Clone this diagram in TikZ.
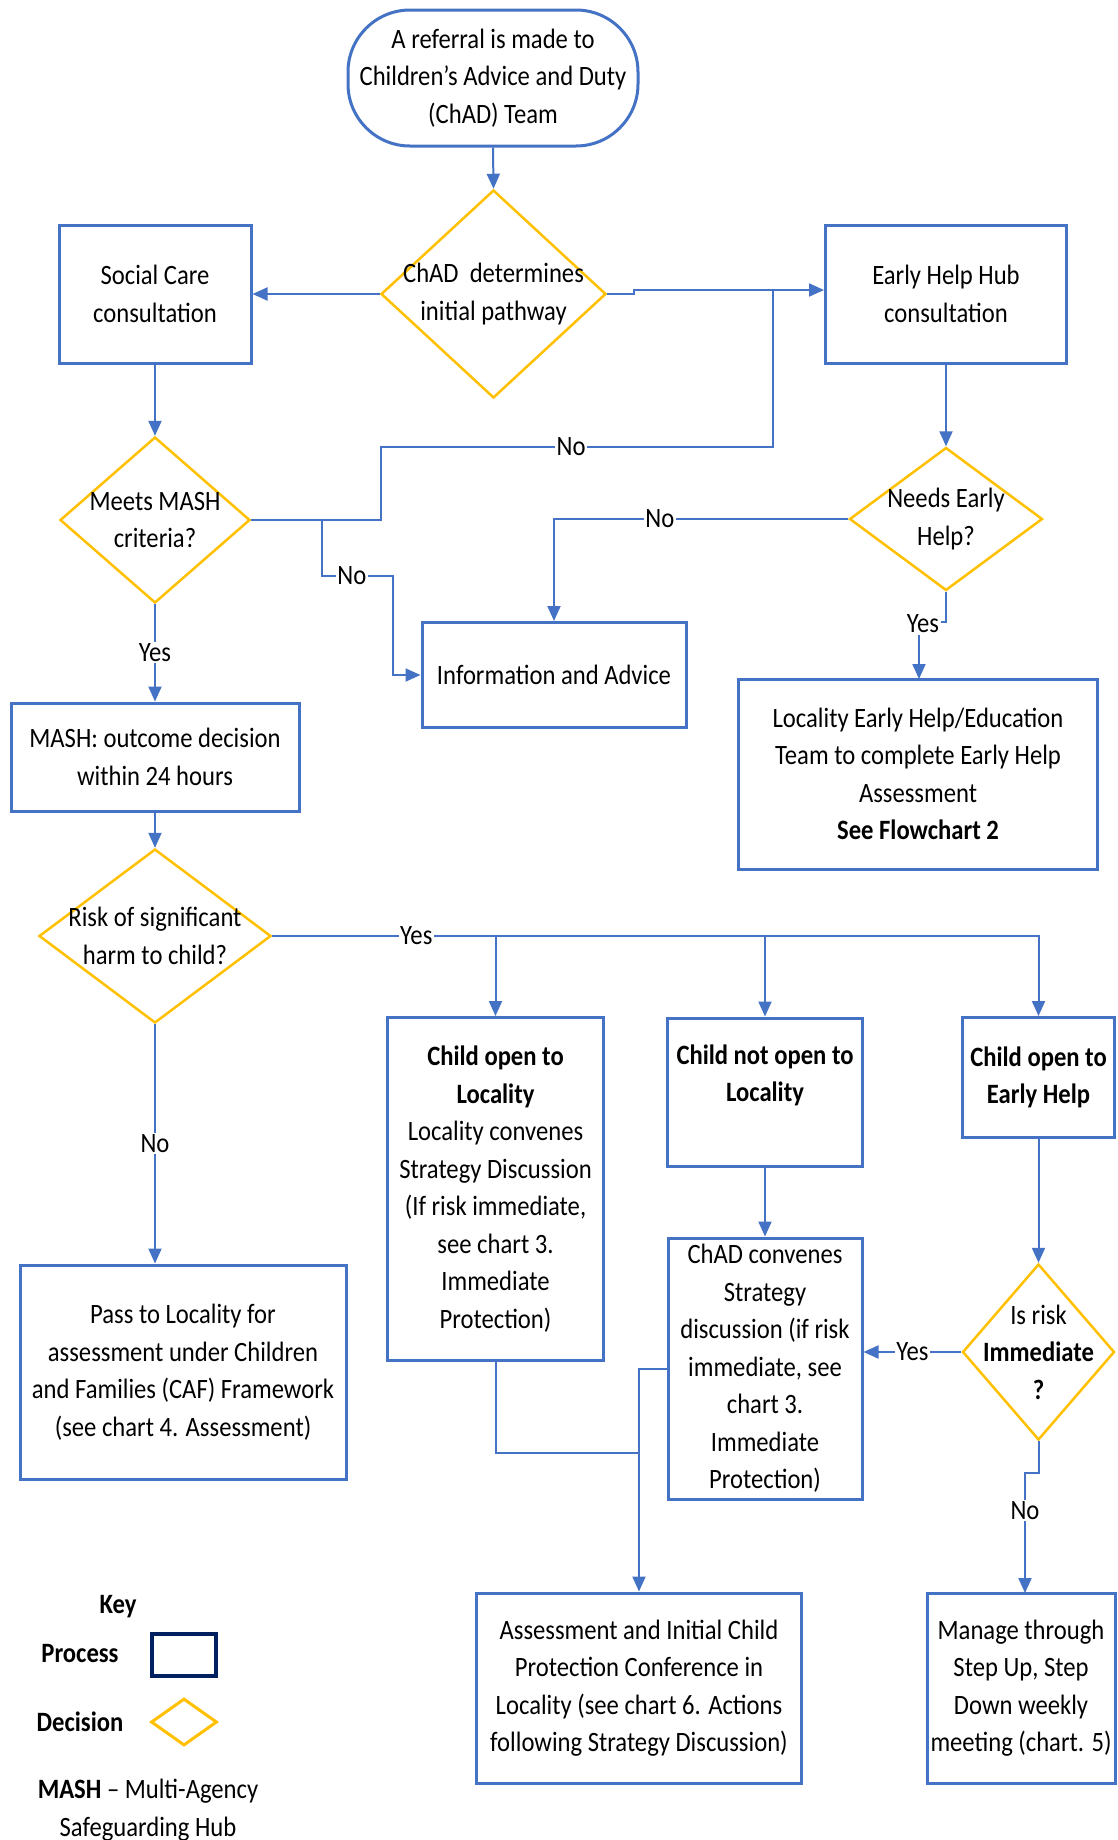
\documentclass[tikz,border=0pt]{standalone}
\usepackage{fontspec}
\setmainfont[FakeStretch=0.88]{Carlito}
\usetikzlibrary{shapes.geometric,arrows.meta}
\definecolor{lblue}{HTML}{4472C4}
\definecolor{gold}{HTML}{FFC000}
\definecolor{navy}{HTML}{002060}
\begin{document}
\begin{tikzpicture}[x=1pt,y=-1pt,
  every node/.style={font=\fontsize{28}{37.5}\selectfont, text=black},
  proc/.style={draw=lblue, line width=3pt, rectangle, inner sep=0pt, align=center},
  dec/.style={draw=gold, line width=2.5pt, diamond, inner sep=0pt},
  conn/.style={draw=lblue, line width=2pt},
  arr/.style={conn, -{Triangle[length=15pt,width=13pt]}},
  lbl/.style={fill=white, inner sep=1.5pt}
]
\useasboundingbox (0,0) rectangle (1117,1840);
\fill[white] (0,0) rectangle (1117,1840);

% nodes
\node[proc, rounded corners=62pt, minimum width=290pt, minimum height=136pt] (start) at (493,78)
  {A referral is made to\\Children’s Advice and Duty\\(ChAD) Team};
\node[dec, minimum width=225pt, minimum height=208pt,
  label={[align=center]center:{ChAD\ \ determines\\initial pathway}}] (d1) at (493.5,294) {};
\node[proc, minimum width=192pt, minimum height=138pt] (sc) at (155,294) {Social Care\\consultation};
\node[proc, minimum width=241pt, minimum height=138pt] (eh) at (946,294) {Early Help Hub\\consultation};
\node[dec, minimum width=190pt, minimum height=166pt,
  label={[align=center]center:{Meets MASH\\criteria?}}] (md) at (155,520) {};
\node[dec, minimum width=193pt, minimum height=143pt,
  label={[align=center]center:{Needs Early\\Help?}}] (neh) at (946,519) {};
\node[proc, minimum width=264pt, minimum height=105pt] (info) at (554,675) {Information and Advice};
\node[proc, minimum width=359pt, minimum height=190pt] (leh) at (918,774)
  {Locality Early Help/Education\\Team to complete Early Help\\Assessment\\\textbf{See Flowchart 2}};
\node[proc, minimum width=288pt, minimum height=108pt] (mash) at (155,757) {MASH: outcome decision\\within 24 hours};
\node[dec, minimum width=232pt, minimum height=174pt,
  label={[align=center]center:{Risk of significant\\harm to child?}}] (risk) at (155,936) {};
\node[proc, minimum width=216pt, minimum height=343pt] (A) at (495.5,1189)
  {\textbf{Child open to}\\\textbf{Locality}\\Locality convenes\\Strategy Discussion\\(If risk immediate,\\see chart 3.\\Immediate\\Protection)};
\node[proc, minimum width=195pt, minimum height=148pt] (B) at (765,1092)
  {\textbf{Child not open to}\\\textbf{Locality}\\\mbox{}};
\node[proc, minimum width=152pt, minimum height=120pt] (C) at (1038.5,1077.5)
  {\textbf{Child open to}\\\textbf{Early Help}};
\node[proc, minimum width=194pt, minimum height=261pt] (D) at (765,1368.5)
  {ChAD convenes\\Strategy\\discussion (if risk\\immediate, see\\chart 3.\\Immediate\\Protection)};
\node[dec, minimum width=152pt, minimum height=176pt,
  label={[align=center]center:{Is risk\\\textbf{Immediate}\\\textbf{?}}}] (E) at (1038.5,1352) {};
\node[proc, minimum width=188pt, minimum height=190pt] (F) at (1021,1688)
  {Manage through\\Step Up, Step\\Down weekly\\meeting (chart. 5)};
\node[proc, minimum width=325pt, minimum height=190pt] (G) at (639,1688)
  {Assessment and Initial Child\\Protection Conference in\\Locality (see chart 6. Actions\\following Strategy Discussion)};
\node[proc, minimum width=326pt, minimum height=214pt] (pass) at (183,1372)
  {Pass to Locality for\\assessment under Children\\and Families (CAF) Framework\\(see chart 4. Assessment)};

% key
\node (keyt) at (118,1607) {\textbf{Key}};
\node (kproc) at (80,1654) {\textbf{Process}};
\node[draw=navy, line width=4.5pt, minimum width=64pt, minimum height=42pt, inner sep=0pt] (kbox) at (184,1655) {};
\node (kdec) at (80,1722) {\textbf{Decision}};
\node[dec, line width=3pt, minimum width=66pt, minimum height=47pt] (kdia) at (184,1722) {};
\node[align=center] (kmash) at (148,1810) {\textbf{MASH} – Multi-Agency\\Safeguarding Hub};

% helper coordinates
\coordinate (k1) at (634,294);
\coordinate (k2) at (634,290);
\coordinate (k3) at (773,290);
\coordinate (m1) at (381,520);
\coordinate (m2) at (381,447);
\coordinate (m3) at (773,447);
\coordinate (b1) at (322,520);
\coordinate (b2) at (322,576);
\coordinate (b3) at (393,576);
\coordinate (b4) at (393,675);
\coordinate (y1) at (946,622);
\coordinate (y2) at (919,622);
\coordinate (y3) at (919,679);
\coordinate (r1) at (1038.5,936);
\coordinate (n1) at (1038.5,1473);
\coordinate (n2) at (1025,1473);
\coordinate (n3) at (1025,1593);
\coordinate (a1) at (495.5,1453);
\coordinate (a2) at (639,1453);
\coordinate (a3) at (639,1368.5);

% connectors
\draw[arr] (start.south) -- (d1.north);
\draw[arr] (d1.west) -- (sc.east);
\draw[arr] (d1.east) -- (k1) -- (k2) -- (k2 -| eh.west);
\draw[arr] (sc.south) -- (md.north);
\draw[arr] (eh.south) -- (neh.north);
\draw[conn] (md.east) -- (m1) -- (m2) -- node[lbl, pos=0.485]{No} (m3) -- (k3);
\draw[arr] (b1) -- (b2) -- node[lbl, pos=0.42]{No} (b3) -- (b4) -- (info.west);
\draw[arr] (neh.west) -- node[lbl, pos=0.64]{No} (neh.west -| info.north) -- (info.north);
\draw[arr] (neh.south) -- (y1) -- (y2) -- (y3);
\node[lbl] (yeh) at (923,624) {Yes};
\draw[arr] (md.south) -- node[lbl]{Yes} (mash.north);
\draw[arr] (mash.south) -- (risk.north);
\draw[arr] (risk.east) -- node[lbl, pos=0.188]{Yes} (r1) -- (C.north);
\draw[arr] (risk.east -| A.north) -- (A.north);
\draw[arr] (risk.east -| B.north) -- (B.north);
\draw[arr] (risk.south) -- node[lbl]{No} (risk.south |- pass.north);
\draw[arr] (B.south) -- (D.north);
\draw[arr] (C.south) -- (E.north);
\draw[arr] (E.west) -- node[lbl]{Yes} (E.west -| D.east);
\draw[arr] (E.south) -- (n1) -- (n2) -- node[lbl, pos=0.31]{No} (n3);
\draw[conn] (A.south) -- (a1) -- (a2);
\draw[arr] (D.west) -- (a3) -- (G.north);
\end{tikzpicture}
\end{document}
